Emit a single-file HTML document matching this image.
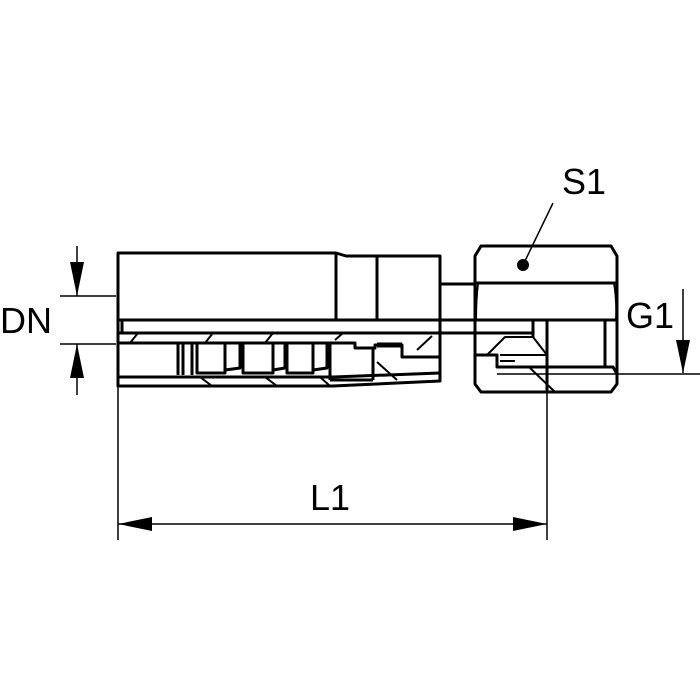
<!DOCTYPE html>
<html><head><meta charset="utf-8"><style>html,body{margin:0;padding:0;background:#fff}svg{display:block}</style></head>
<body>
<svg width="700" height="700" viewBox="0 0 700 700" xmlns="http://www.w3.org/2000/svg">
<rect width="700" height="700" fill="#fff"/>
<g fill="none" stroke="#000" stroke-width="3" stroke-linejoin="round">
  <!-- body -->
  <path d="M118 253 H336 L346 256 H440 V381 L333 386 H118 Z" />
  <path d="M336 253 V320 M377 256 V320"/>
  <path d="M118 320 H533 M118 333 H533 M122 320 V333"/>
  <path d="M118 377 H333 L440 373"/>
  <!-- serration -->
  <path d="M118 343 H355 V348 H375 V345 H402 V357 H440"/>
  <path d="M178 343 V375 M183 343 V375 M192 343 V375"/>
  <path d="M197 343 V373 H225 V343 M225 370 L240 368 V343 M243 343 V373 H273 V343 M273 370 L285 368 V343 M287 343 V373 H313 V343 M313 370 L327 368 V343 M330 343 V380 M373 348 V380 M330 380 H373"/>
  <path d="M377 345 H402" stroke-width="5"/>
  <path d="M130 343 L138 333 M205 343 L213 333 M265 343 L273 333 M335 340 L343 333 M417 350 L432 336" stroke-width="2"/>
  <path d="M200 377 L212 386 M265 377 L277 386 M320 377 L330 386 M377 362 L397 380" stroke-width="2"/>
  <!-- neck -->
  <path d="M440 284 H475"/>
  <!-- nut -->
  <path d="M481 246 H611 L617 256 V384 L611 392 H481 L475 384 V256 Z"/>
  <path d="M475 283 H617"/>
  <path d="M478 283 Q476 300 476 320 M614 283 Q617 300 616 320" stroke-width="2"/>
  <path d="M475 320 H617"/>
  <path d="M533 320 V337 M547 320 V392 M605 320 V367"/>
  <path d="M475 355 H497 V367 H613 L617 374"/>
  <path d="M500 361 H515" stroke-width="2"/>
  <path d="M487 355 L505 337 H533 L547 355 M500 355 H547 M530 368 L555 392" stroke-width="2"/>
</g>
<g stroke="#000" stroke-width="1.5" fill="none">
  <path d="M60 296 H116 M60 344 H116 M77 246 V296 M77 344 V395"/>
  <path d="M118 387 V540 M547 392 V540 M118 524 H547"/>
  <path d="M497 374 H700 M683 289 V373"/>
  <path d="M553 203 L524 263"/>
</g>
<g fill="#000">
  <polygon points="70,262 84,262 77,296"/>
  <polygon points="70,378 84,378 77,344"/>
  <polygon points="118,524 152,517 152,531"/>
  <polygon points="547,524 513,517 513,531"/>
  <polygon points="676,340 690,340 683,373"/>
  <circle cx="523" cy="265" r="6"/>
</g>
<g font-family="Liberation Sans, sans-serif" font-size="36" fill="#000">
  <text x="0" y="333">DN</text>
  <text x="310" y="510">L1</text>
  <text x="562" y="194">S1</text>
  <text x="626" y="328">G1</text>
</g>
</svg>
</body></html>
